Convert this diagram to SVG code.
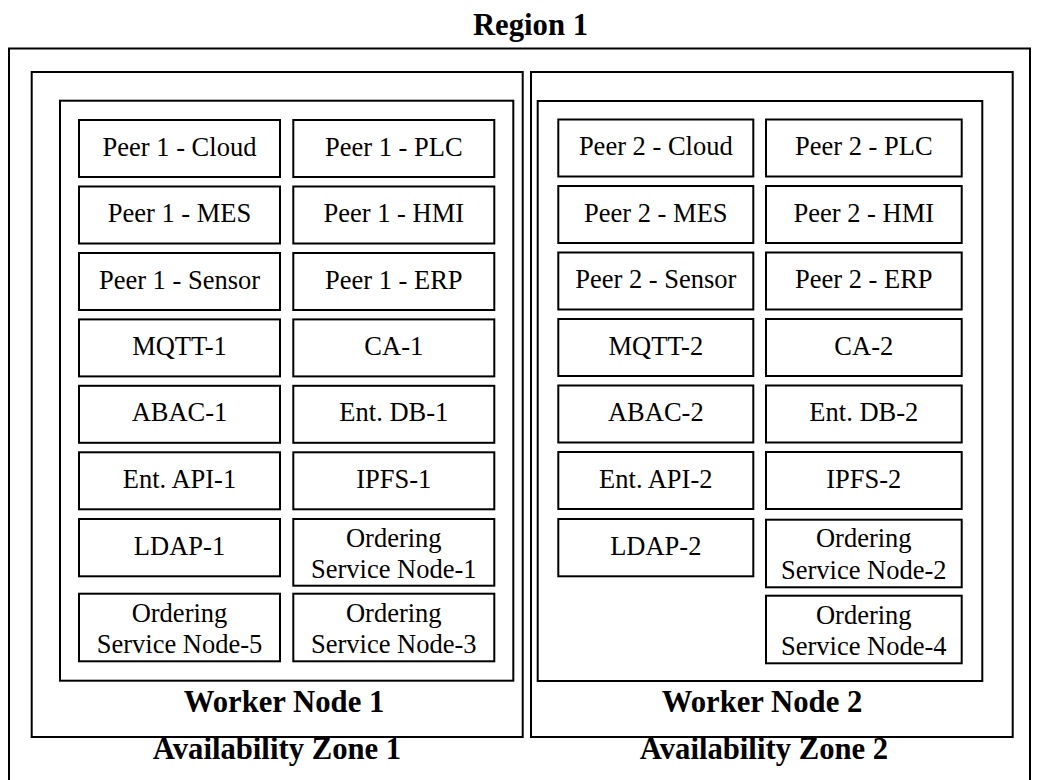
<svg xmlns="http://www.w3.org/2000/svg" width="1040" height="780" viewBox="0 0 1040 780">
<style>
.box{fill:#fff;stroke:#000;stroke-width:2}
.cont{fill:none;stroke:#000;stroke-width:2}
text{font-family:'Liberation Serif','Times New Roman',Tinos,'Nimbus Roman','DejaVu Serif',serif;fill:#000;text-anchor:middle}
.t{font-size:26.5px}
.h{font-size:30.7px;font-weight:bold}
</style>
<rect width="1040" height="780" fill="#fff"/>
<g id="region1">
<rect class="cont" x="9" y="48.5" width="1021" height="760"/>
<text class="h" x="530.5" y="35">Region 1</text>
</g>
<g id="az1">
<rect class="cont" x="31.7" y="72" width="491" height="665"/>
<text class="h" x="277" y="759">Availability Zone 1</text>
</g>
<g id="az2">
<rect class="cont" x="531" y="72" width="481.7" height="665"/>
<text class="h" x="764" y="759">Availability Zone 2</text>
</g>
<g id="wn1">
<rect class="cont" x="60" y="100.7" width="453.3" height="580"/>
<text class="h" x="284" y="712">Worker Node 1</text>
</g>
<g id="wn2">
<rect class="cont" x="537.7" y="101" width="444.6" height="580"/>
<text class="h" x="762" y="712">Worker Node 2</text>
</g>
<g id="p1cloud"><rect class="box" x="79" y="120" width="201" height="57"/><text class="t" x="179.5" y="155.5">Peer 1 - Cloud</text></g>
<g id="p1plc"><rect class="box" x="293.3" y="120" width="201" height="57"/><text class="t" x="393.8" y="155.5">Peer 1 - PLC</text></g>
<g id="p1mes"><rect class="box" x="79" y="186.5" width="201" height="57"/><text class="t" x="179.5" y="222">Peer 1 - MES</text></g>
<g id="p1hmi"><rect class="box" x="293.3" y="186.5" width="201" height="57"/><text class="t" x="393.8" y="222">Peer 1 - HMI</text></g>
<g id="p1sensor"><rect class="box" x="79" y="253" width="201" height="57"/><text class="t" x="179.5" y="288.5">Peer 1 - Sensor</text></g>
<g id="p1erp"><rect class="box" x="293.3" y="253" width="201" height="57"/><text class="t" x="393.8" y="288.5">Peer 1 - ERP</text></g>
<g id="mqtt1"><rect class="box" x="79" y="319.4" width="201" height="57"/><text class="t" x="179.5" y="355">MQTT-1</text></g>
<g id="ca1"><rect class="box" x="293.3" y="319.4" width="201" height="57"/><text class="t" x="393.8" y="355">CA-1</text></g>
<g id="abac1"><rect class="box" x="79" y="385.8" width="201" height="57"/><text class="t" x="179.5" y="421.3">ABAC-1</text></g>
<g id="entdb1"><rect class="box" x="293.3" y="385.8" width="201" height="57"/><text class="t" x="393.8" y="421.3">Ent. DB-1</text></g>
<g id="entapi1"><rect class="box" x="79" y="452.3" width="201" height="57"/><text class="t" x="179.5" y="487.8">Ent. API-1</text></g>
<g id="ipfs1"><rect class="box" x="293.3" y="452.3" width="201" height="57"/><text class="t" x="393.8" y="487.8">IPFS-1</text></g>
<g id="ldap1"><rect class="box" x="79" y="519" width="201" height="57.3"/><text class="t" x="179.5" y="555">LDAP-1</text></g>
<g id="osn1"><rect class="box" x="293.3" y="519" width="201" height="66.7"/><text class="t" x="393.8" y="546.5">Ordering</text><text class="t" x="393.8" y="578">Service Node-1</text></g>
<g id="osn5"><rect class="box" x="79" y="593.7" width="201" height="67.6"/><text class="t" x="179.5" y="621.5">Ordering</text><text class="t" x="179.5" y="652.8">Service Node-5</text></g>
<g id="osn3"><rect class="box" x="293.3" y="593.7" width="201" height="67.6"/><text class="t" x="393.8" y="621.5">Ordering</text><text class="t" x="393.8" y="652.8">Service Node-3</text></g>
<g id="p2cloud"><rect class="box" x="558.3" y="119.5" width="195" height="57"/><text class="t" x="655.8" y="155">Peer 2 - Cloud</text></g>
<g id="p2plc"><rect class="box" x="766" y="119.5" width="195.7" height="57"/><text class="t" x="863.8" y="155">Peer 2 - PLC</text></g>
<g id="p2mes"><rect class="box" x="558.3" y="186" width="195" height="57"/><text class="t" x="655.8" y="221.5">Peer 2 - MES</text></g>
<g id="p2hmi"><rect class="box" x="766" y="186" width="195.7" height="57"/><text class="t" x="863.8" y="221.5">Peer 2 - HMI</text></g>
<g id="p2sensor"><rect class="box" x="558.3" y="252.5" width="195" height="57"/><text class="t" x="655.8" y="288">Peer 2 - Sensor</text></g>
<g id="p2erp"><rect class="box" x="766" y="252.5" width="195.7" height="57"/><text class="t" x="863.8" y="288">Peer 2 - ERP</text></g>
<g id="mqtt2"><rect class="box" x="558.3" y="319" width="195" height="57"/><text class="t" x="655.8" y="354.5">MQTT-2</text></g>
<g id="ca2"><rect class="box" x="766" y="319" width="195.7" height="57"/><text class="t" x="863.8" y="354.5">CA-2</text></g>
<g id="abac2"><rect class="box" x="558.3" y="385.5" width="195" height="57"/><text class="t" x="655.8" y="421">ABAC-2</text></g>
<g id="entdb2"><rect class="box" x="766" y="385.5" width="195.7" height="57"/><text class="t" x="863.8" y="421">Ent. DB-2</text></g>
<g id="entapi2"><rect class="box" x="558.3" y="452" width="195" height="57"/><text class="t" x="655.8" y="487.5">Ent. API-2</text></g>
<g id="ipfs2"><rect class="box" x="766" y="452" width="195.7" height="57"/><text class="t" x="863.8" y="487.5">IPFS-2</text></g>
<g id="ldap2"><rect class="box" x="558.3" y="519" width="195" height="57.3"/><text class="t" x="655.8" y="555">LDAP-2</text></g>
<g id="osn2"><rect class="box" x="766" y="519.7" width="195.7" height="67.6"/><text class="t" x="863.8" y="547">Ordering</text><text class="t" x="863.8" y="578.5">Service Node-2</text></g>
<g id="osn4"><rect class="box" x="766" y="595.7" width="195.7" height="67.6"/><text class="t" x="863.8" y="623.5">Ordering</text><text class="t" x="863.8" y="655">Service Node-4</text></g>
<g id="connectors"></g>
</svg>
